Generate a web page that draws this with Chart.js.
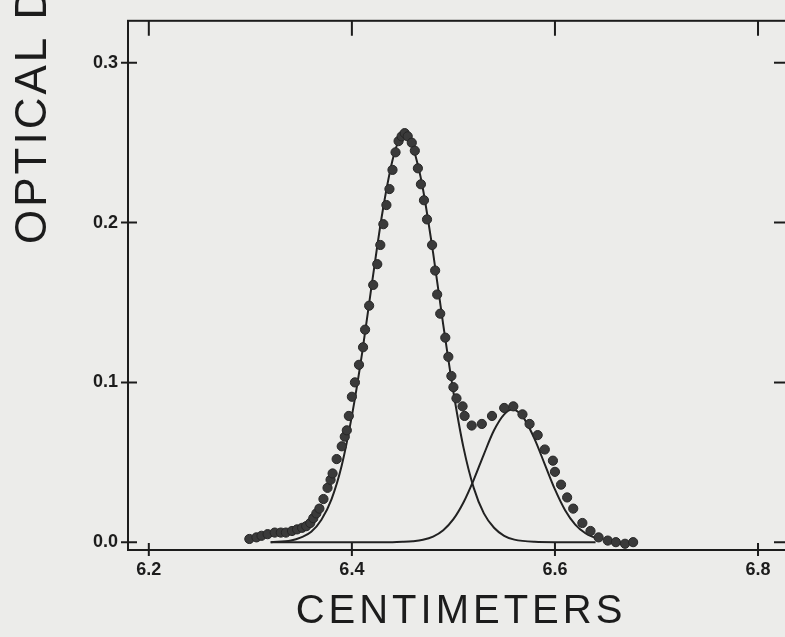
<!DOCTYPE html>
<html>
<head>
<meta charset="utf-8">
<script src="https://cdn.jsdelivr.net/npm/chart.js@4"></script>
<style>
  html, body { margin: 0; padding: 0; overflow: hidden; background: #ececea; }
  #wrap { width: 800px; height: 637px; }
</style>
</head>
<body>
<div id="wrap"><canvas id="densityChart" width="800" height="637"></canvas></div>
<script>
// Axis ticks
const xTicks = [6.2, 6.4, 6.6, 6.8];
const yTicks = [0.0, 0.1, 0.2, 0.3];

// Measured optical density (dots)
const dotX = [6.299, 6.306, 6.311, 6.317, 6.324, 6.330, 6.335, 6.341, 6.346, 6.351,
    6.355, 6.359, 6.362, 6.365, 6.368, 6.372, 6.376, 6.379, 6.381, 6.385,
    6.390, 6.393, 6.395, 6.397, 6.400, 6.403, 6.407, 6.411, 6.413, 6.417,
    6.421, 6.425, 6.428, 6.431, 6.434, 6.437, 6.440, 6.443, 6.446, 6.449,
    6.452, 6.455, 6.459, 6.462, 6.465, 6.468, 6.471, 6.474, 6.479, 6.482,
    6.484, 6.487, 6.492, 6.495, 6.498, 6.500, 6.503, 6.509, 6.511, 6.518,
    6.528, 6.538, 6.550, 6.559, 6.568, 6.575, 6.583, 6.590, 6.598, 6.600,
    6.606, 6.612, 6.618, 6.627, 6.635, 6.643, 6.652, 6.660, 6.669, 6.677];
const dotY = [0.002, 0.003, 0.004, 0.005, 0.006, 0.006, 0.006, 0.007, 0.008, 0.009,
    0.010, 0.012, 0.015, 0.018, 0.021, 0.027, 0.034, 0.039, 0.043, 0.052,
    0.060, 0.066, 0.070, 0.079, 0.091, 0.100, 0.111, 0.122, 0.133, 0.148,
    0.161, 0.174, 0.186, 0.199, 0.211, 0.221, 0.233, 0.244, 0.251, 0.254,
    0.256, 0.254, 0.250, 0.245, 0.234, 0.224, 0.214, 0.202, 0.186, 0.170,
    0.155, 0.143, 0.128, 0.116, 0.104, 0.097, 0.090, 0.085, 0.079, 0.073,
    0.074, 0.079, 0.084, 0.085, 0.080, 0.074, 0.067, 0.058, 0.051, 0.044,
    0.036, 0.028, 0.021, 0.012, 0.007, 0.003, 0.001, 0.000, -0.001, 0.000];

// Main band (solid curve)
const bandAX = [6.32, 6.34, 6.35, 6.36, 6.37, 6.38, 6.39, 6.40, 6.41, 6.42,
    6.43, 6.44, 6.446, 6.452, 6.458, 6.465, 6.47, 6.48, 6.49, 6.50,
    6.51, 6.52, 6.53, 6.54, 6.55, 6.56, 6.58, 6.60, 6.64];
const bandAY = [0.000, 0.001, 0.003, 0.0065, 0.014, 0.027, 0.048, 0.079, 0.118, 0.163,
    0.206, 0.239, 0.251, 0.255, 0.251, 0.236, 0.221, 0.181, 0.136, 0.094,
    0.059, 0.034, 0.018, 0.009, 0.004, 0.0016, 0.0002, 0.000, 0.000];

// Minor band (solid curve)
const bandBX = [6.32, 6.44, 6.45, 6.46, 6.47, 6.48, 6.49, 6.50, 6.51, 6.52,
    6.53, 6.54, 6.55, 6.558, 6.565, 6.57, 6.58, 6.59, 6.60, 6.61,
    6.62, 6.63, 6.64];
const bandBY = [0.000, 0.000, 0.0002, 0.0006, 0.0015, 0.0035, 0.0075, 0.0144, 0.025, 0.039,
    0.055, 0.070, 0.080, 0.083, 0.081, 0.077, 0.0645, 0.0487, 0.033, 0.020,
    0.011, 0.0056, 0.0025];

const toPoints = (xs, ys) => xs.map((x, i) => ({ x: x, y: ys[i] }));

const ink = '#1c1c1c';
const labelFont = { family: 'Liberation Sans, Arial, sans-serif', size: 18, weight: 'bold' };

// Box frame with inward ticks, plus the hand-lettered axis titles
const framePlugin = {
    id: 'frame',
    afterDraw(chart) {
        const { ctx, chartArea: a, scales: { x, y } } = chart;
        ctx.save();
        ctx.strokeStyle = ink;
        ctx.lineWidth = 2;
        ctx.strokeRect(a.left, a.top, a.right - a.left, a.bottom - a.top);

        ctx.beginPath();
        xTicks.forEach(v => {
            const px = x.getPixelForValue(v);
            ctx.moveTo(px, a.bottom - 7);
            ctx.lineTo(px, a.bottom + 6);
            ctx.moveTo(px, a.top);
            ctx.lineTo(px, a.top + 15);
        });
        yTicks.forEach(v => {
            const py = y.getPixelForValue(v);
            ctx.moveTo(a.left - 7, py);
            ctx.lineTo(a.left + 9, py);
            ctx.moveTo(a.right - 16, py);
            ctx.lineTo(a.right, py);
        });
        ctx.stroke();

        ctx.fillStyle = ink;
        ctx.textBaseline = 'middle';

        // y axis title, running up and off the top edge
        ctx.save();
        ctx.font = '44px "Liberation Sans", Arial, sans-serif';
        ctx.letterSpacing = '3px';
        ctx.translate(34, 244);
        ctx.rotate(-Math.PI / 2);
        ctx.textAlign = 'left';
        ctx.fillText('OPTICAL DENSITY', 0, 0);
        ctx.restore();

        // x axis title
        ctx.font = '40px "Liberation Sans", Arial, sans-serif';
        ctx.letterSpacing = '4px';
        ctx.textAlign = 'center';
        ctx.fillText('CENTIMETERS', (a.left + a.right) / 2 + 2, 612);
        ctx.restore();
    }
};

const ctx = document.getElementById('densityChart').getContext('2d');
const densityChart = new Chart(ctx, {
    type: 'scatter',
    data: {
        datasets: [
            {
                label: 'Measured',
                data: toPoints(dotX, dotY),
                pointRadius: 4.6,
                pointBackgroundColor: '#3a3a3a',
                pointBorderColor: '#262626',
                pointBorderWidth: 1,
                showLine: false
            },
            {
                label: 'Band A',
                data: toPoints(bandAX, bandAY),
                showLine: true,
                pointRadius: 0,
                borderColor: '#222',
                borderWidth: 2,
                cubicInterpolationMode: 'monotone'
            },
            {
                label: 'Band B',
                data: toPoints(bandBX, bandBY),
                showLine: true,
                pointRadius: 0,
                borderColor: '#222',
                borderWidth: 2,
                cubicInterpolationMode: 'monotone'
            }
        ]
    },
    options: {
        responsive: false,
        animation: false,
        layout: { padding: { left: 0, top: 8, right: 10, bottom: 0 } },
        plugins: { legend: { display: false }, tooltip: { enabled: false } },
        scales: {
            x: {
                type: 'linear',
                min: 6.1795,
                max: 6.8315,
                afterBuildTicks: s => { s.ticks = xTicks.map(v => ({ value: v })); },
                afterFit: s => { s.height = 637 - 550; },
                grid: { display: false, drawTicks: false },
                border: { display: false },
                ticks: {
                    padding: 9,
                    color: ink,
                    font: labelFont,
                    maxRotation: 0,
                    autoSkip: false,
                    callback: v => v.toFixed(1)
                }
            },
            y: {
                type: 'linear',
                min: -0.0049,
                max: 0.3263,
                afterBuildTicks: s => { s.ticks = yTicks.map(v => ({ value: v })); },
                afterFit: s => { s.width = 128; },
                grid: { display: false, drawTicks: false },
                border: { display: false },
                ticks: {
                    padding: 10,
                    color: ink,
                    font: labelFont,
                    autoSkip: false,
                    callback: v => v.toFixed(1)
                }
            }
        }
    },
    plugins: [framePlugin]
});
</script>
</body>
</html>
